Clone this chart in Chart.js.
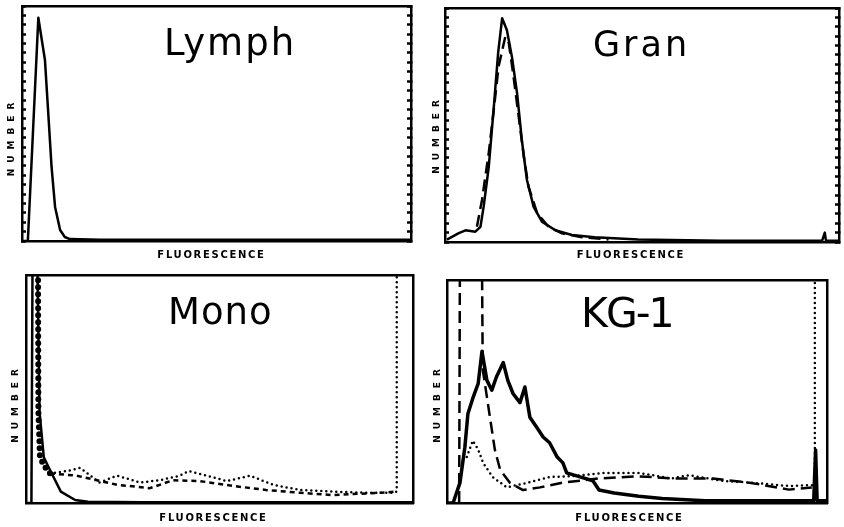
<!DOCTYPE html>
<html>
<head>
<meta charset="utf-8">
<script src="https://cdn.jsdelivr.net/npm/chart.js@4/dist/chart.umd.min.js"></script>
<style>
  html, body { margin:0; padding:0; background:#fff; }
  #wrap { position:relative; width:844px; height:527px; background:#fff; overflow:hidden; }
  canvas { position:absolute; }
  .ttl { position:absolute; font-family:"DejaVu Sans", sans-serif; font-weight:400; color:#000; line-height:1; white-space:nowrap; }
</style>
</head>
<body>
<div id="wrap">
  <canvas id="c1" width="422" height="263" style="left:0;top:0"></canvas>
  <canvas id="c2" width="422" height="263" style="left:422px;top:0"></canvas>
  <canvas id="c3" width="422" height="264" style="left:0;top:263px"></canvas>
  <canvas id="c4" width="422" height="264" style="left:422px;top:263px"></canvas>
  <div class="ttl" style="left:164px;top:24px;font-size:37px;letter-spacing:2px">Lymph</div>
  <div class="ttl" style="left:593px;top:27px;font-size:35px;letter-spacing:3px">Gran</div>
  <div class="ttl" style="left:168px;top:293px;font-size:37px;letter-spacing:1px">Mono</div>
  <div class="ttl" style="left:581px;top:293px;font-size:41px;letter-spacing:-2px">KG-1</div>
</div>
<script>
// ---- axis labels ----
const xAxisLabel = 'FLUORESCENCE';
const yAxisLabel = 'NUMBER';

// ---- Lymph (x: % of channel range, y: % of full scale) ----
const lymphX = [0, 1.5, 4.2, 5.9, 6.8, 7.6, 8.5, 9.8, 11, 12.3, 20, 100];
const lymphY = [0, 0, 95, 77, 53, 31.5, 14.5, 4.7, 1.7, 0.8, 0.5, 0.5];

// ---- Gran ----
const granSolidX = [0.5, 3.5, 5.2, 7.7, 9, 9.8, 11.1, 12.4, 13.5, 14.5, 15.7, 17, 18.3, 19.5, 20.8, 22.5, 24.6, 28, 32.2, 38, 49, 70, 95.7, 96.4, 96.7, 100];
const granSolidY = [1, 3.8, 5, 4.4, 6.5, 15, 32, 58, 81, 95.6, 90.6, 79, 63.5, 43.6, 26.5, 15, 8.7, 5, 3, 2, 1.1, 0.5, 0.5, 4, 0.5, 0.5];
const granDashX = [8.1, 9.4, 11.1, 12.4, 13.6, 15.3, 16.2, 17.4, 18.7, 20, 21.2, 23.4, 26.3, 29.7, 34.8, 41.5];
const granDashY = [6.5, 18, 38, 56.8, 75, 87.7, 85, 70.7, 53.6, 36.5, 23.6, 12.3, 6.5, 3.7, 2, 1.1];

// ---- Mono ----
const monoSolidX = [0, 1.4, 1.7, 2.9, 3.5, 4.6, 6.2, 9, 12.7, 16, 30, 60, 100];
const monoSolidY = [0, 0, 110, 110, 40, 20, 14.5, 5, 1.3, 0.5, 0.3, 0.3, 0.3];
const monoCircleX = [3.1, 3.2, 3.6, 4.9, 6.2];
const monoCircleY = [110, 40, 20, 15.8, 13];
const monoDotX = [6.2, 10.6, 14, 19, 23.5, 29.5, 34.6, 39.8, 42, 46.7, 51.9, 57.9, 63.8, 70.8, 79.3, 88, 94.8, 95.8, 95.8];
const monoDotY = [13, 14, 15.4, 9, 12, 9, 10, 12, 14, 12, 9.6, 12, 8, 5.7, 5, 4.5, 4.5, 5, 110];
const monoDashX = [6.2, 13, 23.5, 32, 38, 45, 53.5, 62, 70.8, 79, 92, 95.8];
const monoDashY = [13, 12, 8, 6.5, 10, 9.6, 7.5, 5.7, 4.5, 3.5, 4.5, 5];

// ---- KG-1 ----
const kgSolidX = [0, 1.6, 3.4, 4.7, 5.5, 6.8, 8.2, 9.2, 10.5, 11.8, 13, 14.8, 16, 17.4, 19.2, 20.5, 21.8, 23.6, 25.3, 27, 29, 30.5, 31.5, 35, 38.4, 40, 44, 50.5, 56.6, 68, 90, 96.5, 97, 97.4, 100];
const kgSolidY = [0, 0, 9, 25, 40, 47, 53.5, 68, 55, 50.6, 56.5, 63, 55, 49, 45, 52, 38.5, 34, 29.6, 27, 20.6, 18, 13.5, 11.7, 10, 5.8, 4.5, 3, 2, 1, 1, 1, 23.8, 1, 1];
const kgDashX = [3.2, 3.4, 9.2, 9.4, 11.3, 12.6, 14, 16.6, 20, 24.5, 30, 40, 50, 60, 70, 80, 90, 96];
const kgDashY = [0, 110, 110, 60, 38.5, 23.8, 14.8, 9, 5.8, 7, 9, 11, 12, 11, 11, 9, 6, 7];
const kgDotX = [5.2, 6.8, 8.2, 9.5, 12, 15.7, 21, 27, 33, 41.6, 50.5, 59, 63.7, 72, 81, 90, 96, 96.8, 96.8];
const kgDotY = [20.6, 28, 24, 18, 11.7, 7, 9, 11.7, 12, 13.5, 13.5, 11, 12.5, 10, 9, 7.6, 8, 8, 110];

const pts = (xs, ys) => xs.map((x, i) => ({x, y: ys[i]}));

const STYLES = {
  solid:  {borderDash: [], borderWidth: 2.5, borderCapStyle: 'butt'},
  thick:  {borderDash: [], borderWidth: 3.5, borderCapStyle: 'butt'},
  dash:   {borderDash: [12, 6], borderWidth: 2.5, borderCapStyle: 'butt'},
  short:  {borderDash: [5, 4], borderWidth: 2.5, borderCapStyle: 'butt'},
  dot:    {borderDash: [0, 5], borderWidth: 2.5, borderCapStyle: 'round'},
  circle: {borderDash: [0, 7], borderWidth: 6, borderCapStyle: 'round'}
};

function ds(xs, ys, style) {
  return Object.assign({
    data: pts(xs, ys), borderColor: '#000', backgroundColor: '#000',
    pointRadius: 0, fill: false, tension: 0, borderJoinStyle: 'round',
    xAxisID: 'x', yAxisID: 'y'
  }, STYLES[style]);
}

// title styling (letter spacing + offset) per chart
const titleStylePlugin = {
  id: 'titleStyle',
  afterLayout(chart) {
    const cfg = chart.options.plugins.titleStyle || {};
    Object.values(chart.scales).forEach(s => {
      if (s.__wrapped) return;
      const st = cfg[s.id];
      if (!st) return;
      const orig = s.drawTitle;
      s.drawTitle = function () {
        const ctx = this.ctx;
        ctx.save();
        ctx.letterSpacing = st.spacing + 'px';
        ctx.translate(st.dx || 0, st.dy || 0);
        orig.call(this);
        ctx.restore();
      };
      s.__wrapped = true;
    });
  }
};

const FONT = 'DejaVu Sans';

function panel(id, box, datasets, bumps, tstyle) {
  const border = {display: true, color: '#000', width: 2.5};
  const bumpGrid = {display: bumps, drawOnChartArea: false, drawTicks: true, tickLength: -4, tickColor: '#000', tickWidth: 2.5, color: '#000'};
  return new Chart(document.getElementById(id), {
    type: 'line',
    data: {datasets},
    plugins: [titleStylePlugin],
    options: {
      responsive: false, animation: false, devicePixelRatio: 1,
      layout: {padding: 0},
      plugins: {legend: {display: false}, tooltip: {enabled: false}, titleStyle: tstyle},
      scales: {
        x: {type: 'linear', position: 'bottom', min: 0, max: 100,
            ticks: {display: false}, grid: {display: false}, border,
            title: {display: true, text: xAxisLabel, color: '#000', padding: {top: 0, bottom: box.tpad},
                    font: {family: FONT, size: 10, weight: 'bold'}},
            afterFit(s) { s.height = box.b; }},
        x2: {type: 'linear', position: 'top', min: 0, max: 100,
             ticks: {display: false}, grid: {display: false}, border,
             afterFit(s) { s.height = box.t; }},
        y: {type: 'linear', position: 'left', min: 0, max: 100,
            ticks: {display: false, stepSize: 4, maxTicksLimit: 40}, grid: bumpGrid, border,
            title: {display: true, text: yAxisLabel, color: '#000', padding: 0,
                    font: {family: FONT, size: 9, weight: 'bold'}},
            afterFit(s) { s.width = box.l; }},
        y2: {type: 'linear', position: 'right', min: 0, max: 100,
             ticks: {display: false, stepSize: 4, maxTicksLimit: 40}, grid: bumpGrid, border,
             afterFit(s) { s.width = box.r; }}
      }
    }
  });
}

panel('c1', {l: 22, r: 11, t: 6, b: 22, tpad: 2},
  [ds(lymphX, lymphY, 'solid')], true,
  {x: {spacing: 1.7, dx: -5, dy: 0}, y: {spacing: 6, dx: 6.5, dy: 13}});

panel('c2', {l: 23, r: 5, t: 8, b: 21, tpad: 2},
  [ds(granSolidX, granSolidY, 'solid'), ds(granDashX, granDashY, 'dash')], true,
  {x: {spacing: 1.7, dx: -11, dy: 0}, y: {spacing: 6, dx: 9.5, dy: 9}});

panel('c3', {l: 26, r: 9, t: 12, b: 24, tpad: 3},
  [ds(monoSolidX, monoSolidY, 'solid'), ds(monoCircleX, monoCircleY, 'circle'),
   ds(monoDotX, monoDotY, 'dot'), ds(monoDashX, monoDashY, 'short')], false,
  {x: {spacing: 1.7, dx: -6, dy: 0}, y: {spacing: 6, dx: 10, dy: 14}});

panel('c4', {l: 25, r: 17, t: 17, b: 24, tpad: 3},
  [ds(kgSolidX, kgSolidY, 'thick'), ds(kgDashX, kgDashY, 'dash'), ds(kgDotX, kgDotY, 'dot')], false,
  {x: {spacing: 1.7, dx: -7.5, dy: 0}, y: {spacing: 6, dx: 10, dy: 11.5}});
</script>
</body>
</html>
